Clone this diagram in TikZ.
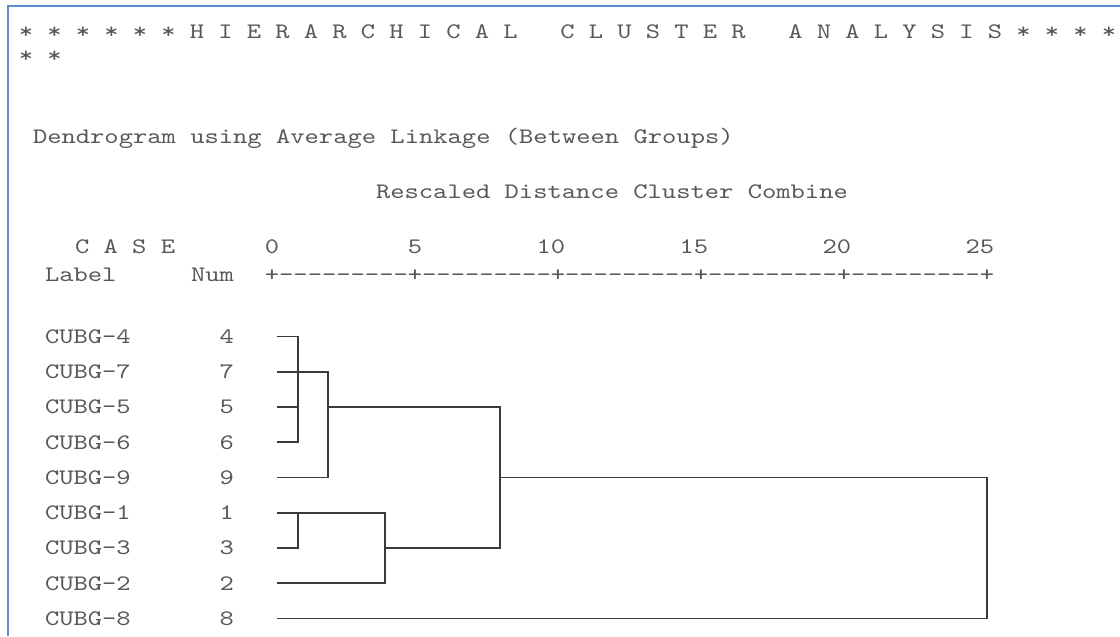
\documentclass[tikz,border=0pt]{standalone}
\usepackage{fontspec}
% Typewriter face for the listing, widened to the listing's column pitch
\newfontfamily\codefam{lmmono10-regular}[Extension=.otf, FakeStretch=1.2306]
\newfontfamily\headfam{lmmono10-regular}[Extension=.otf, FakeStretch=1.2263]
\newcommand\codefont{\codefam\fontsize{16.6}{20}\selectfont}
\newcommand\headfont{\headfam\fontsize{16.6}{20}\selectfont}
\definecolor{inkgray}{RGB}{88,88,88}
\definecolor{linegray}{RGB}{58,58,58}
\definecolor{frameblue}{RGB}{96,142,210}
\tikzset{
  txt/.style={inner sep=0pt, outer sep=0pt, text=inkgray, font=\codefont},
  head/.style={inner sep=0pt, outer sep=0pt, text=inkgray, font=\headfont},
  link/.style={draw=linegray, line width=1.25pt},
  frame/.style={draw=frameblue, line width=1.5pt}
}
\begin{document}
\begin{tikzpicture}[x=0.75pt, y=-0.75pt]
  % page
  \fill[white] (0,0) rectangle (1120,636);
  \useasboundingbox (0,0) rectangle (1120,636);
  \draw[frame] (8,636) -- (8,5.5) -- (1120,5.5);

  % heading (wraps onto a second line)
  \node[head, anchor=base west] (title) at (18.9,38.5)
    {* * * * * * H I E R A R C H I C A L~~~C L U S T E R~~~A N A L Y S I S * * * *};
  \node[head, anchor=base west] (title2) at (18.9,62.5) {* *};

  \node[txt, anchor=base west] (method) at (33,143.5)
    {Dendrogram using Average Linkage (Between Groups)};
  \node[txt, anchor=base west] (scale) at (376,198.5)
    {Rescaled Distance Cluster Combine};

  % column heads and distance scale
  \node[txt, anchor=base west] (case) at (75,253.5) {C A S E};
  \node[txt, anchor=base west] (label) at (45,281.5) {Label};
  \node[txt, anchor=base east] (num) at (234,281.5) {Num};
  \node[txt, anchor=base west] (axis) at (264.85,281.5)
    {+---------+---------+---------+---------+---------+};
  \node[txt, anchor=base] (s0) at (272,253.5) {0};
  \node[txt, anchor=base] (s5) at (415,253.5) {5};
  \node[txt, anchor=base east] (s10) at (565.15,253.5) {10};
  \node[txt, anchor=base east] (s15) at (708.15,253.5) {15};
  \node[txt, anchor=base east] (s20) at (851.15,253.5) {20};
  \node[txt, anchor=base east] (s25) at (994.15,253.5) {25};

  % cases, in dendrogram order
  \foreach \n/\r in {4/0,7/1,5/2,6/3,9/4,1/5,3/6,2/7,8/8} {
    \pgfmathsetmacro\yy{336.5+35.25*\r}
    \node[txt, anchor=base west] (lab\n) at (45,\yy+6.75) {CUBG-\n};
    \node[txt, anchor=base east] (num\n) at (234,\yy+6.75) {\n};
    \coordinate (leaf\n) at (277,\yy);
  }

  % merge levels
  \coordinate (j1) at (298,0);
  \coordinate (j2) at (328,0);
  \coordinate (j3) at (385,0);
  \coordinate (j4) at (500,0);
  \coordinate (j5) at (987,0);

  % tree
  \draw[link] (leaf4) -- (leaf4 -| j1) -- (leaf6 -| j1) -- (leaf6);
  \draw[link] (leaf5) -- (leaf5 -| j1);
  \draw[link] (leaf7) -- (leaf7 -| j2) -- (leaf9 -| j2) -- (leaf9);
  \draw[link] (leaf5 -| j2) -- (leaf5 -| j4) -- (leaf3 -| j4) -- (leaf3 -| j3);
  \draw[link] (leaf1) -- (leaf1 -| j3) -- (leaf2 -| j3) -- (leaf2);
  \draw[link] (leaf1 -| j1) -- (leaf3 -| j1) -- (leaf3);
  \draw[link] (leaf9 -| j4) -- (leaf9 -| j5) -- (leaf8 -| j5) -- (leaf8);
\end{tikzpicture}
\end{document}
